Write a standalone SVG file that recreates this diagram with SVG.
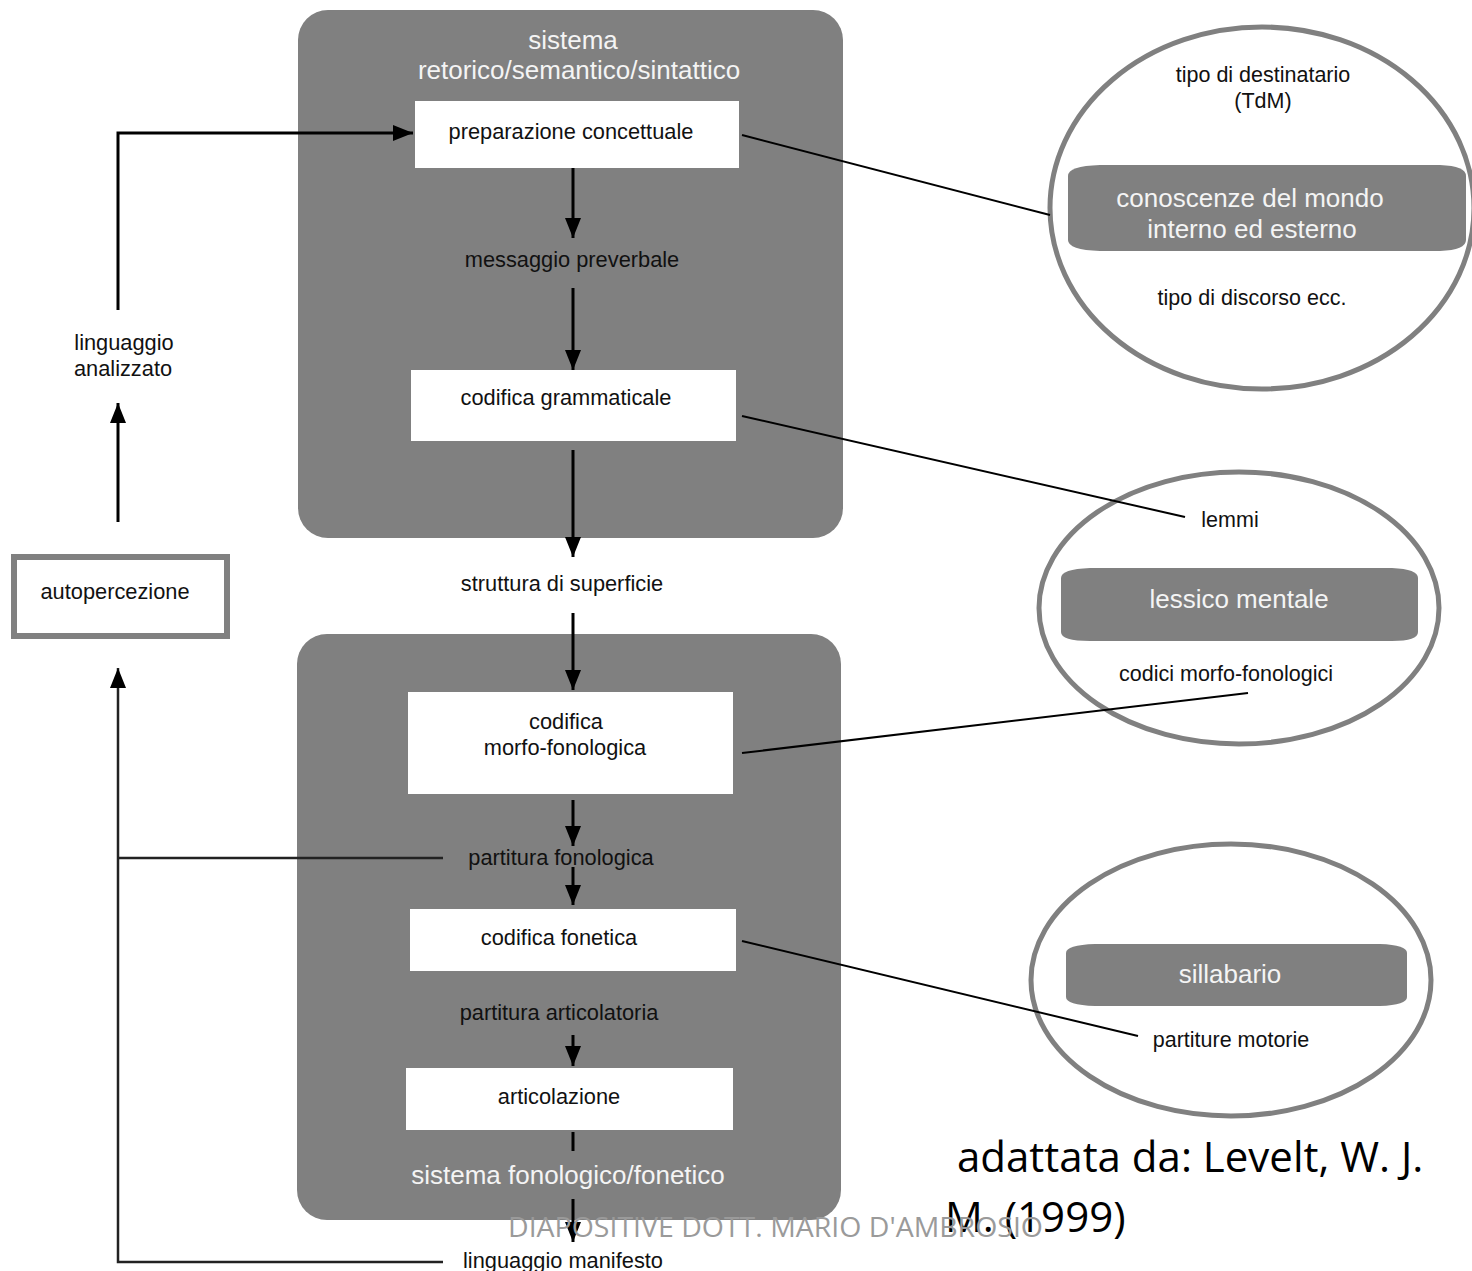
<svg xmlns="http://www.w3.org/2000/svg" width="1472" height="1271" viewBox="0 0 1472 1271">
<defs>
<marker id="ahb" viewBox="0 0 20 16" refX="20" refY="8" markerWidth="20" markerHeight="16" markerUnits="userSpaceOnUse" orient="auto">
<path d="M0,0 L20,8 L0,16 z" fill="#000"/>
</marker>
</defs>
<style>
.panel{fill:#808080}
.box{fill:#fff}
.t{font-family:"Liberation Sans",Arial,sans-serif;font-size:21.8px;fill:#111;text-anchor:middle}
.w{font-family:"Liberation Sans",Arial,sans-serif;font-size:26px;fill:#f4f4f4;text-anchor:middle}
.s{font-family:"Liberation Sans",Arial,sans-serif;font-size:21.5px;fill:#111;text-anchor:middle}
.ell{fill:#fff;stroke:#808080;stroke-width:5}
.bar{fill:#808080}
.c{stroke:#000;stroke-width:3;fill:none}
.th{stroke:#000;stroke-width:2;fill:none}
.fb{stroke:#222;stroke-width:2.5;fill:none}
.cap{font-family:"Open Sans","Liberation Sans",sans-serif;font-size:42px;fill:#000}
.wm{font-family:"Open Sans","Liberation Sans",sans-serif;font-size:27px;fill:#9a9a9a}
</style>

<g id="panel-top">
<rect class="panel" x="298" y="10" width="545" height="528" rx="30"/>
<text class="w" x="573" y="49">sistema</text>
<text class="w" x="579" y="79">retorico/semantico/sintattico</text>
</g>
<g id="panel-bottom">
<rect class="panel" x="297" y="634" width="544" height="586" rx="30"/>
<text class="w" x="568" y="1184">sistema fonologico/fonetico</text>
</g>

<g id="n-preparazione">
<rect class="box" x="415" y="101" width="324" height="67"/>
<text class="t" x="571" y="139">preparazione concettuale</text>
</g>
<g id="n-messaggio"><text class="t" x="572" y="267">messaggio preverbale</text></g>
<g id="n-grammaticale">
<rect class="box" x="411" y="370" width="325" height="71"/>
<text class="t" x="566" y="405">codifica grammaticale</text>
</g>
<g id="n-struttura"><text class="t" x="562" y="591">struttura di superficie</text></g>
<g id="n-morfo">
<rect class="box" x="408" y="692" width="325" height="102"/>
<text class="t" x="566" y="729">codifica</text>
<text class="t" x="565" y="755">morfo-fonologica</text>
</g>
<g id="n-partfon"><text class="t" x="561" y="865">partitura fonologica</text></g>
<g id="n-fonetica">
<rect class="box" x="410" y="909" width="326" height="62"/>
<text class="t" x="559" y="945">codifica fonetica</text>
</g>
<g id="n-partart"><text class="t" x="559" y="1020">partitura articolatoria</text></g>
<g id="n-articolazione">
<rect class="box" x="406" y="1068" width="327" height="62"/>
<text class="t" x="559" y="1104">articolazione</text>
</g>
<g id="n-manifesto"><text class="t" x="563" y="1268">linguaggio manifesto</text></g>

<g id="n-autopercezione">
<rect x="14" y="557" width="213" height="79" fill="#fff" stroke="#808080" stroke-width="6"/>
<text class="t" x="115" y="599">autopercezione</text>
</g>
<g id="n-analizzato">
<text class="t" x="124" y="350">linguaggio</text>
<text class="t" x="123" y="376">analizzato</text>
</g>

<g id="n-conoscenze">
<ellipse class="ell" cx="1262" cy="208" rx="212" ry="181"/>
<path class="bar" d="M1068,176 Q1068,166 1100,165 L1440,165 Q1466,166 1466,176 L1466,240 Q1466,250 1440,251 L1100,251 Q1068,250 1068,240 Z"/>
<text class="w" x="1250" y="207">conoscenze del mondo</text>
<text class="w" x="1252" y="238">interno ed esterno</text>
<text class="s" x="1263" y="82">tipo di destinatario</text>
<text class="s" x="1263" y="108">(TdM)</text>
<text class="s" x="1252" y="305">tipo di discorso ecc.</text>
</g>
<g id="n-lessico">
<ellipse class="ell" cx="1239" cy="608" rx="200" ry="136"/>
<path class="bar" d="M1061,578 Q1061,569 1090,568 L1392,568 Q1418,569 1418,578 L1418,632 Q1418,641 1392,641 L1090,641 Q1061,641 1061,632 Z"/>
<text class="w" x="1239" y="608">lessico mentale</text>
<text class="s" x="1230" y="527">lemmi</text>
<text class="s" x="1226" y="681">codici morfo-fonologici</text>
</g>
<g id="n-sillabario">
<ellipse class="ell" cx="1231" cy="980" rx="200" ry="136"/>
<path class="bar" d="M1066,953 Q1066,945 1095,944 L1380,944 Q1407,945 1407,953 L1407,997 Q1407,1005 1380,1006 L1095,1006 Q1066,1005 1066,997 Z"/>
<text class="w" x="1230" y="983">sillabario</text>
<text class="s" x="1231" y="1047">partiture motorie</text>
</g>

<g id="connectors">
<line class="c" x1="573" y1="168" x2="573" y2="238" marker-end="url(#ahb)"/>
<line class="c" x1="573" y1="288" x2="573" y2="370" marker-end="url(#ahb)"/>
<line class="c" x1="573" y1="450" x2="573" y2="557" marker-end="url(#ahb)"/>
<line class="c" x1="573" y1="613" x2="573" y2="690" marker-end="url(#ahb)"/>
<line class="c" x1="573" y1="800" x2="573" y2="846" marker-end="url(#ahb)"/>
<line class="c" x1="573" y1="867" x2="573" y2="905" marker-end="url(#ahb)"/>
<line class="c" x1="573" y1="1035" x2="573" y2="1066" marker-end="url(#ahb)"/>
<line class="c" x1="573" y1="1132" x2="573" y2="1151"/>
<line class="c" x1="573" y1="1199" x2="573" y2="1242" marker-end="url(#ahb)"/>
<polyline class="c" points="118,310 118,133 413,133" marker-end="url(#ahb)"/>
<line class="c" x1="118" y1="522" x2="118" y2="403" marker-end="url(#ahb)"/>
<polyline class="fb" points="443,1262 118,1262 118,668" marker-end="url(#ahb)"/>
<line class="fb" x1="118" y1="858" x2="443" y2="858"/>
<line class="th" x1="742" y1="135" x2="1050" y2="215"/>
<line class="th" x1="742" y1="416" x2="1185" y2="517"/>
<line class="th" x1="742" y1="753" x2="1248" y2="693"/>
<line class="th" x1="742" y1="941" x2="1138" y2="1036"/>
</g>

<g id="caption">
<text class="cap" x="957" y="1172">adattata da: Levelt, W. J.</text>
<text class="cap" x="945" y="1232">M. (1999)</text>
</g>
<text class="wm" x="508" y="1237" textLength="535" lengthAdjust="spacingAndGlyphs">DIAPOSITIVE  DOTT. MARIO D'AMBROSIO</text>
</svg>
